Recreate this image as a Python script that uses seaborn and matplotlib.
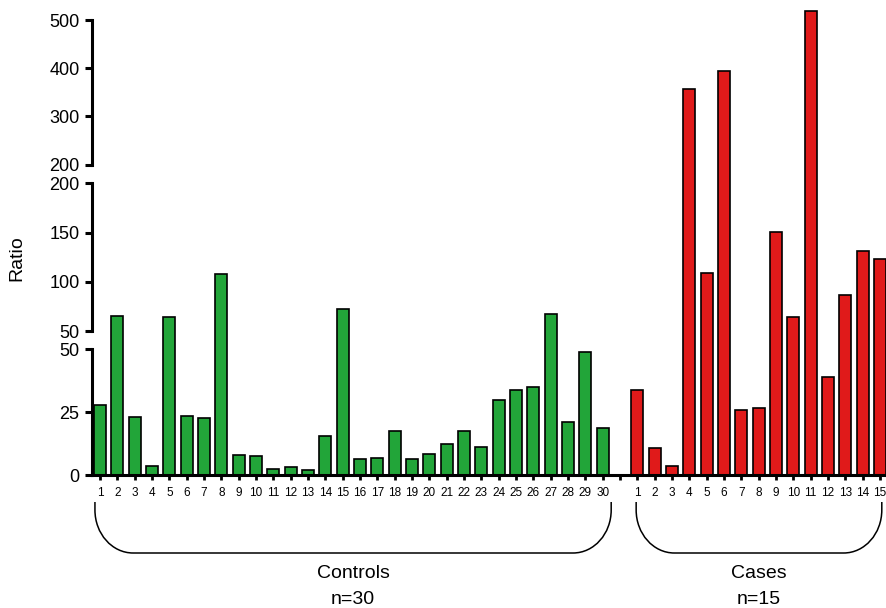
import numpy as np
import pandas as pd
import matplotlib
matplotlib.use("Agg")
import matplotlib.pyplot as plt
import matplotlib.transforms as mtransforms
from matplotlib.path import Path
from matplotlib.patches import PathPatch
import seaborn as sns

# values
controls = [28, 65, 23, 3.4, 64.5, 23.4, 22.5, 108, 8.1, 7.5,
            2.4, 3.2, 1.8, 15.6, 72, 6.5, 6.9, 17.5, 6.5, 8.5,
            12.4, 17.6, 11, 29.9, 33.7, 35, 67, 21, 48.9, 18.5]
cases = [33.9, 10.8, 3.7, 356, 109, 394, 25.9, 26.8, 150.8, 64.5,
         519, 39, 86.5, 131, 123.4]
group_names = ["Controls", "Cases"]
group_colors = {"Controls": "#22a539", "Cases": "#e01a1a"}

ctrl_ids = ["C%d" % (i + 1) for i in range(len(controls))]
case_ids = ["K%d" % (i + 1) for i in range(len(cases))]
order = ctrl_ids + ["gap"] + case_ids
tick_labels = [str(i + 1) for i in range(len(controls))] + [""] + [str(i + 1) for i in range(len(cases))]

df = pd.DataFrame({
    "id": ctrl_ids + case_ids,
    "ratio": controls + cases,
    "group": ["Controls"] * len(controls) + ["Cases"] * len(cases),
})

sns.set_style("ticks")
plt.rcParams["font.family"] = ["Liberation Sans", "DejaVu Sans"]
plt.rcParams.update({"text.color": "black", "axes.edgecolor": "black",
                     "xtick.color": "black", "ytick.color": "black",
                     "axes.labelcolor": "black"})

fig = plt.figure(figsize=(8.87, 6.08), dpi=100)
W, H = 887, 608
left, width = 92 / W, 795 / W


def px_axes(y_low, y_high):
    # axes box from pixel rows (measured from the top of the figure)
    return fig.add_axes([left, 1 - y_low / H, width, (y_low - y_high) / H])


# each segment reaches to the middle of the break so the bars run through it
ax_bot = px_axes(475, 340)
ax_mid = px_axes(340, 174)
ax_top = px_axes(174, 5)

bot_lim = (0, 50 + 9.3 / 2.514)
mid_lim = (50 - 9 / 0.9847, 200 + 9.3 / 0.9847)
top_lim = (200 - 9.3 / 0.4823, 200 + 159.7 / 0.4823)

segments = [
    (ax_bot, bot_lim, [0, 25, 50], [50], None),
    (ax_mid, mid_lim, [50, 100, 150, 200], [50, 200], bot_lim[1]),
    (ax_top, top_lim, [200, 300, 400, 500], [200], mid_lim[1]),
]

for ax, lim, ticks, breaks, floor in segments:
    seg = df.copy()
    if floor is not None:
        # only bars that run out of the segment below show up here
        seg["ratio"] = seg["ratio"].where(seg["ratio"] > floor, 0)
    sns.barplot(data=seg, x="id", y="ratio", hue="group", order=order,
                palette=group_colors, dodge=False, width=0.7, saturation=1,
                edgecolor="black", linewidth=1.2, legend=False, ax=ax)
    ax.set_xlim(-0.46, 45.4)
    ax.set_ylim(*lim)
    ax.set_yticks(ticks)
    ax.set_yticklabels([str(t) for t in ticks])
    ax.set_yticks(breaks, minor=True)
    ax.tick_params(axis="y", which="major", direction="out", length=5,
                   width=2.2, labelsize=13, pad=4)
    ax.tick_params(axis="y", which="minor", direction="in", length=4,
                   width=2.2, labelleft=False)
    ax.set_xlabel("")
    ax.set_ylabel("")
    for s in ["top", "right"]:
        ax.spines[s].set_visible(False)
    ax.spines["left"].set_linewidth(2.2)
    ax.spines["left"].set_bounds(ticks[0], ticks[-1])
    ax.patch.set_alpha(0)
    if ax is not ax_bot:
        ax.spines["bottom"].set_visible(False)
        ax.tick_params(axis="x", bottom=False, labelbottom=False)

ax_bot.spines["bottom"].set_linewidth(2.2)
ax_bot.set_xticks(range(len(order)))
ax_bot.set_xticklabels(tick_labels)
ax_bot.tick_params(axis="x", direction="out", length=3.5, width=2.0,
                   labelsize=8.5, pad=5)

fig.text(17 / W, 1 - 258 / H, "Ratio", rotation=90, ha="center", va="center", fontsize=14)

# brackets under the two groups, in bottom-axes units (0 at 475 px, 1 at 340 px)
trans = mtransforms.blended_transform_factory(ax_bot.transData, ax_bot.transAxes)
h = 135.0
y_top, y_bot = -(502 - 475) / h, -(553 - 475) / h
rx, ry = 2.2, 43 / h
k = 0.448
spans = [(-0.29, 29.49), (30.93, 45.1)]
for (x0, x1), name, n in zip(spans, group_names, [len(controls), len(cases)]):
    verts = [
        (x0, y_top), (x0, y_bot + ry),
        (x0, y_bot + k * ry), (x0 + k * rx, y_bot), (x0 + rx, y_bot),
        (x1 - rx, y_bot),
        (x1 - k * rx, y_bot), (x1, y_bot + k * ry), (x1, y_bot + ry),
        (x1, y_top),
    ]
    codes = [Path.MOVETO, Path.LINETO,
             Path.CURVE4, Path.CURVE4, Path.CURVE4,
             Path.LINETO,
             Path.CURVE4, Path.CURVE4, Path.CURVE4,
             Path.LINETO]
    ax_bot.add_patch(PathPatch(Path(verts, codes), transform=trans, fill=False,
                               edgecolor="black", linewidth=1.1, clip_on=False))
    xc = (x0 + x1) / 2
    ax_bot.text(xc, -(573 - 475) / h, name, transform=trans, ha="center", va="center", fontsize=14)
    ax_bot.text(xc, -(599 - 475) / h, "n=%d" % n, transform=trans, ha="center", va="center", fontsize=14)

fig.savefig("out.png", dpi=100)
